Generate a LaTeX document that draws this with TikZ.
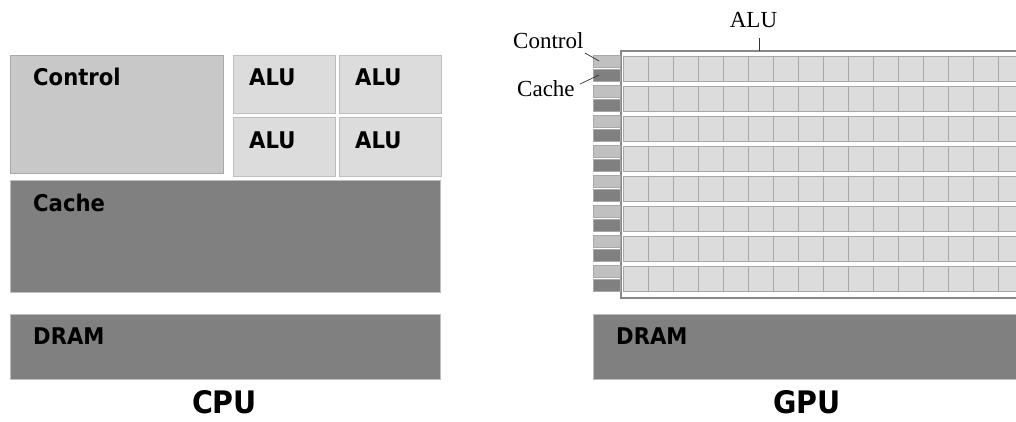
\documentclass[tikz,border=0pt]{standalone}
\usepackage{fontspec}
\newfontfamily\sansb{DejaVu Sans}[FakeStretch=0.92]
\newfontfamily\lserif{Liberation Serif}
\definecolor{ctlgray}{HTML}{C8C8C8}
\definecolor{gctlgray}{HTML}{C0C0C0}
\definecolor{alugray}{HTML}{DCDCDC}
\definecolor{darkfill}{HTML}{808080}
\definecolor{edgeA}{HTML}{A8A8A8}
\definecolor{edgeB}{HTML}{BEBEBE}
\definecolor{outeredge}{HTML}{888888}
\begin{document}
\begin{tikzpicture}[x=1pt,y=-1pt,
  blk/.style={rectangle, inner sep=0pt, outer sep=0pt, anchor=north west, line width=0.8pt},
  ctlblk/.style={blk, fill=ctlgray, draw=edgeA},
  alublk/.style={blk, fill=alugray, draw=edgeB},
  darkblk/.style={blk, fill=darkfill, draw=edgeB},
  gctl/.style={blk, fill=gctlgray, draw=edgeA, minimum width=27pt, minimum height=12pt},
  gcache/.style={blk, fill=darkfill, draw=edgeA, minimum width=27pt, minimum height=12pt},
  cell/.style={blk, fill=alugray, draw=edgeA, minimum width=25pt, minimum height=25.5pt},
  lbl/.style={inner sep=0pt, anchor=base west, font=\sansb\bfseries\fontsize{23}{27}\selectfont},
  title/.style={inner sep=0pt, anchor=base, font=\sansb\bfseries\fontsize{31}{36}\selectfont},
  slbl/.style={inner sep=0pt, font=\lserif\fontsize{23}{27}\selectfont},
  leader/.style={draw=black!80, line width=0.7pt}]
\useasboundingbox (0,0) rectangle (1016,421);
\fill[white] (0,0) rectangle (1016,421);
\clip (0,0) rectangle (1016,421);

% ---------------- CPU ----------------
\node[ctlblk, minimum width=213pt, minimum height=118pt] (cctl) at (10,55) {};
\node[alublk, minimum width=102pt, minimum height=58pt] (alu1) at (233,55) {};
\node[alublk, minimum width=102pt, minimum height=58pt] (alu2) at (339,55) {};
\node[alublk, minimum width=102pt, minimum height=59pt] (alu3) at (233,117) {};
\node[alublk, minimum width=102pt, minimum height=59pt] (alu4) at (339,117) {};
\node[darkblk, minimum width=430pt, minimum height=112pt] (ccache) at (10,180) {};
\node[darkblk, minimum width=430pt, minimum height=65pt] (cdram) at (10,314) {};

\node[lbl] (tctl) at (33,85) {Control};
\node[lbl] (talu1) at (249,85) {ALU};
\node[lbl] (talu2) at (355,85) {ALU};
\node[lbl] (talu3) at (249,148) {ALU};
\node[lbl] (talu4) at (355,148) {ALU};
\node[lbl] (tcache) at (33,211) {Cache};
\node[lbl] (tcdram) at (33,344) {DRAM};
\node[title] (tcpu) at (224.5,413) {CPU};

% ---------------- GPU ----------------
\node[blk, fill=white, draw=outeredge, line width=1.3pt, minimum width=420pt, minimum height=247pt] (gbox) at (621,51) {};
\foreach \k in {0,...,7}{
  \node[gctl] (gctl\k) at (593,55+30*\k) {};
  \node[gcache] (gcache\k) at (593,69+30*\k) {};
  \foreach \j in {0,...,16}{
    \node[cell] (cell\k-\j) at (623+25*\j,56+30*\k) {};
  }
}
\node[darkblk, minimum width=440pt, minimum height=65pt] (gdram) at (593,314) {};
\node[lbl] (tgdram) at (616,344) {DRAM};
\node[title] (tgpu) at (807,413) {GPU};

\node[slbl, anchor=base] (galu) at (753.5,27) {ALU};
\node[slbl, anchor=base west] (gctltxt) at (513,48) {Control};
\node[slbl, anchor=base west] (gcachetxt) at (517,96) {Cache};

\coordinate (aluA) at (759,38);
\coordinate (ctlA) at (585,53);
\coordinate (ctlB) at (599,61);
\coordinate (cacA) at (580,84);
\coordinate (cacB) at (599,75);
\draw[leader] (aluA) -- (aluA |- gbox.north);
\draw[leader] (ctlA) -- (ctlB);
\draw[leader] (cacA) -- (cacB);
\end{tikzpicture}
\end{document}
